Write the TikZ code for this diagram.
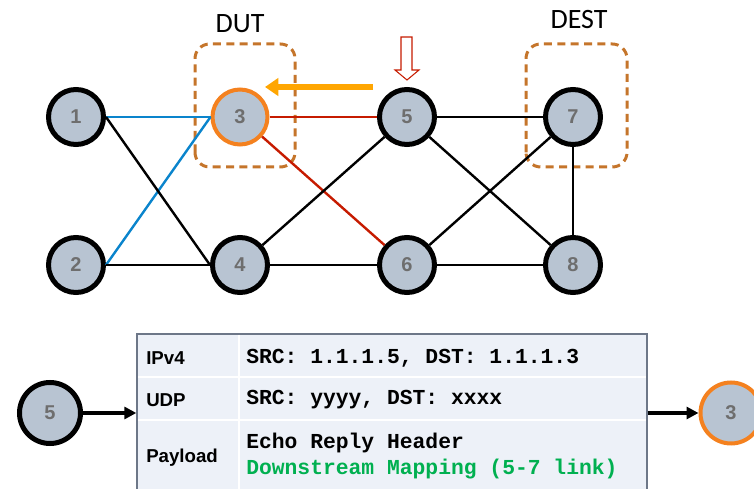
\documentclass[tikz,border=0pt]{standalone}
\usepackage{fontspec}
\setsansfont{Liberation Sans}
\setmonofont{Liberation Mono}
\newfontfamily\titlefont{Carlito}
\usepackage{tikz}
\usetikzlibrary{arrows.meta, positioning}

\definecolor{nodegray}{HTML}{B8C4D2}
\definecolor{numgray}{HTML}{6E6E6E}
\definecolor{dutring}{HTML}{F4811F}
\definecolor{boxorange}{HTML}{C5752B}
\definecolor{linkblue}{HTML}{0A84CC}
\definecolor{linkred}{HTML}{C61B00}
\definecolor{flow}{HTML}{FFA602}
\definecolor{pktfill}{HTML}{EDF1F8}
\definecolor{pktborder}{HTML}{6D7788}
\definecolor{mapgreen}{HTML}{00B050}

\tikzset{
	sw/.style={circle, draw=black, line width=3.75pt, fill=nodegray, minimum size=41.25pt, inner sep=0pt,
		text=numgray, font=\sffamily\bfseries\fontsize{15}{15}\selectfont},
	swbig/.style={sw, minimum size=45.75pt},
	dut/.style={draw=dutring, line width=3pt},
	link/.style={line width=1.8pt},
	grp/.style={draw=boxorange, line width=2.25pt, dash pattern=on 6pt off 4pt, rounded corners=11pt},
	grplabel/.style={font=\titlefont\fontsize{21}{21}\selectfont},
	hdr/.style={anchor=west, inner sep=0pt, font=\sffamily\bfseries\fontsize{14}{14}\selectfont},
	fld/.style={anchor=west, inner sep=0pt, font=\ttfamily\bfseries\fontsize{16}{16}\selectfont},
	pktarrow/.style={line width=2.4pt, -{Triangle[length=9pt,width=9pt]}},
}

\begin{document}
\begin{tikzpicture}[x=0.75pt, y=0.75pt]
		\useasboundingbox (0,0) rectangle (754,489);

		% group boxes
		\draw[grp] (195,322) rectangle (295,445);
		\draw[grp] (526,322) rectangle (627,445);
		\node[grplabel] (dutlabel) at (240,465) {DUT};
		\node[grplabel] (destlabel) at (579,469) {DEST};

		% switches
		\node[sw] (n1) at (76,372) {1};
		\node[sw] (n2) at (76,224) {2};
		\node[sw, dut] (n3) at (240,372) {3};
		\node[sw] (n4) at (240,224) {4};
		\node[sw] (n5) at (407,372) {5};
		\node[sw] (n6) at (407,224) {6};
		\node[sw] (n7) at (573,372) {7};
		\node[sw] (n8) at (573,224) {8};

		\draw[link, linkblue] (n1.east) -- (n3.west);
		\draw[link, linkblue] (n2.east) -- (n3.west);
		\draw[link] (n1.east) -- (n4.west);
		\draw[link] (n2.east) -- (n4.west);
		\draw[link, linkred] (n3) -- (n5);
		\draw[link, linkred] (n3) -- (n6);
		\draw[link] (n4) -- (n5);
		\draw[link] (n4) -- (n6);
		\draw[link] (n5) -- (n7);
		\draw[link] (n5) -- (n8);
		\draw[link] (n6) -- (n7);
		\draw[link] (n6) -- (n8);
		\draw[link] (n7) -- (n8);

		% reply direction
		\coordinate (flowstart) at (373,402);
		\coordinate (flowend) at (265,402);
		\draw[flow, line width=4.5pt, -{Triangle[length=10pt,width=13pt]}] (flowstart) -- (flowend);

		% injection point
		\draw[linkred, line width=0.8pt, fill=white] (401,452) -- (412,452) -- (412,419) -- (419,419)
			-- (407,409) -- (395,419) -- (401,419) -- cycle;

		% packet
		\node[swbig] (p5) at (50,76) {5};
		\node[swbig, dut] (p3) at (731,76) {3};
		\node[draw=pktborder, fill=pktfill, line width=1pt, minimum width=382.5pt, minimum height=118.5pt,
			inner sep=0pt] (pkt) at (392,76) {};
		\draw[white, line width=1.5pt] (239,154) -- (239,-3);
		\draw[white, line width=1.5pt] (138,112) -- (646,112);
		\draw[white, line width=1.5pt] (138,69) -- (646,69);

		\node[hdr] (ipv4) at (146,131) {IPv4};
		\node[hdr] (udp) at (146,89) {UDP};
		\node[hdr] (payload) at (146,31) {Payload};
		\node[fld] (ipf) at (246,131) {SRC: 1.1.1.5, DST: 1.1.1.3};
		\node[fld] (udpf) at (246,89) {SRC: yyyy, DST: xxxx};
		\node[fld] (echo) at (246,46) {Echo Reply Header};
		\node[fld, text=mapgreen] (mapping) at (246,20) {Downstream Mapping (5-7 link)};

		\draw[pktarrow] (p5) -- (pkt.west);
		\draw[pktarrow] (pkt.east) -- (p3);

	\end{tikzpicture}
\end{document}
